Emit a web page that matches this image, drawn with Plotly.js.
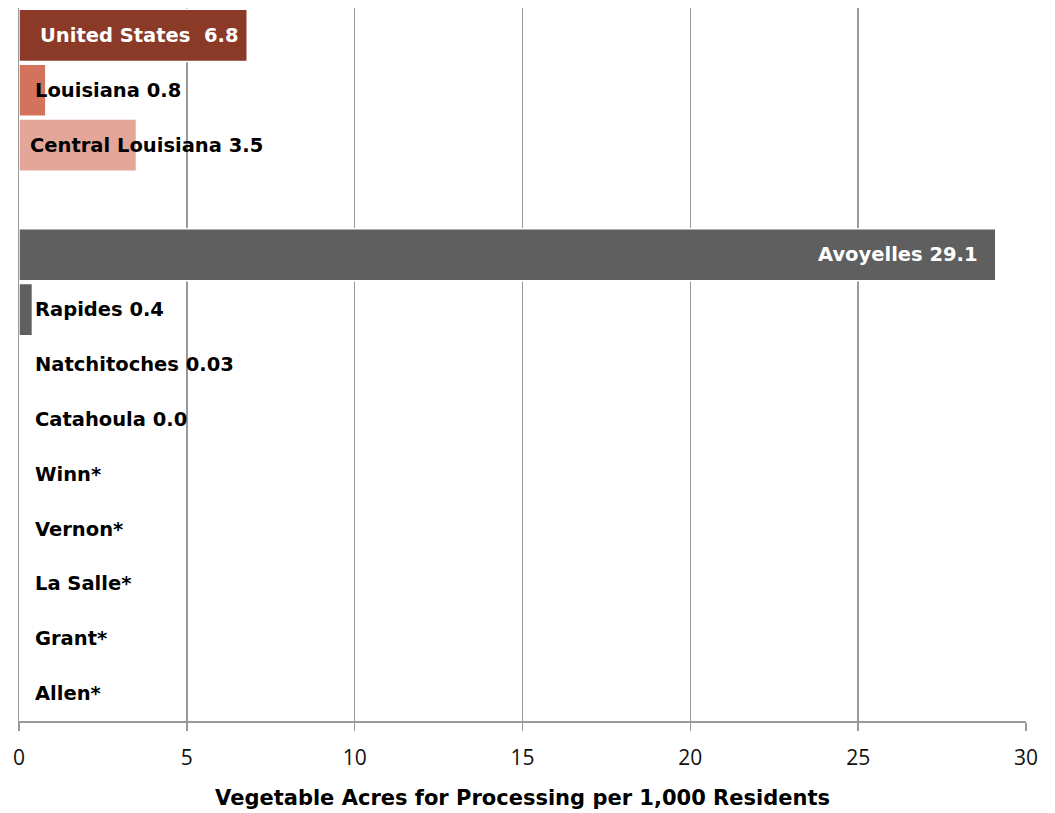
<!DOCTYPE html>
<html>
<head>
<meta charset="utf-8">
<script src="https://cdn.plot.ly/plotly-3.0.1.min.js"></script>
<style>html,body{margin:0;padding:0;background:#fff;}</style>
</head>
<body>
<div id="chart" style="width:1055px;height:813px;"></div>
<script>
var categories = ["United States", "Louisiana", "Central Louisiana", " ", "Avoyelles", "Rapides", "Natchitoches", "Catahoula", "Winn", "Vernon", "La Salle", "Grant", "Allen"];
var values = [6.8, 0.8, 3.5, null, 29.1, 0.4, 0.03, 0.0, null, null, null, null, null];
var valueLabels = ["United States  6.8", "Louisiana 0.8", "Central Louisiana 3.5", "", "Avoyelles 29.1", "Rapides 0.4", "Natchitoches 0.03", "Catahoula 0.0", "Winn*", "Vernon*", "La Salle*", "Grant*", "Allen*"];
var barColors = ["#8B3A27", "#D4735B", "#E4A699", "#ffffff", "#5F5F5F", "#5F5F5F", "#5F5F5F", "#5F5F5F", "#5F5F5F", "#5F5F5F", "#5F5F5F", "#5F5F5F", "#5F5F5F"];
var xTicks = [0, 5, 10, 15, 20, 25, 30];
var xTitle = "Vegetable Acres for Processing per 1,000 Residents";

var labelFont = "DejaVu Sans, sans-serif";
var annotations = categories.map(function (c, i) {
  if (!valueLabels[i]) return null;
  var rightAligned = (i === 4);
  var white = (i === 0 || i === 4);
  return {
    x: rightAligned ? values[i] : 0,
    y: c,
    xref: "x", yref: "y",
    text: "<b>" + valueLabels[i] + "</b>",
    showarrow: false,
    xanchor: rightAligned ? "right" : "left",
    xshift: rightAligned ? -16 : (i === 0 ? 19 : (i === 2 ? 9 : 14)),
    font: {family: labelFont, size: 19.5, color: white ? "#ffffff" : "#000000"}
  };
}).filter(function (a) { return a !== null; });

var trace = {
  type: "bar",
  orientation: "h",
  y: categories,
  x: values,
  marker: {color: barColors, line: {color: "#ffffff", width: 1.5}},
  hoverinfo: "skip"
};

var layout = {
  width: 1055, height: 813,
  margin: {l: 19, r: 29, t: 8, b: 90},
  paper_bgcolor: "#ffffff", plot_bgcolor: "#ffffff",
  showlegend: false,
  bargap: 0.05,
  xaxis: {
    range: [0, 30],
    tickvals: xTicks,
    ticktext: xTicks.map(String),
    showgrid: true, gridcolor: "#9A9A9A", gridwidth: 1.5,
    zeroline: false,
    showline: true, linecolor: "#9A9A9A", linewidth: 1.5,
    ticks: "outside", ticklen: 8, tickcolor: "#9A9A9A", tickwidth: 1.5,
    ticklabelstandoff: 9,
    tickfont: {family: "Open Sans, sans-serif", size: 21, color: "#111111"},
    layer: "below traces",
    automargin: true,
    title: {text: "<b>" + xTitle + "</b>", font: {family: labelFont, size: 21, color: "#000000"}, standoff: 20}
  },
  yaxis: {
    type: "category",
    categoryorder: "array", categoryarray: categories,
    autorange: "reversed",
    showticklabels: false, ticks: "",
    showgrid: false, zeroline: false,
    showline: true, linecolor: "#9A9A9A", linewidth: 1.5,
    layer: "below traces"
  },
  annotations: annotations
};

Plotly.newPlot("chart", [trace], layout, {displayModeBar: false, staticPlot: true});
</script>
</body>
</html>
